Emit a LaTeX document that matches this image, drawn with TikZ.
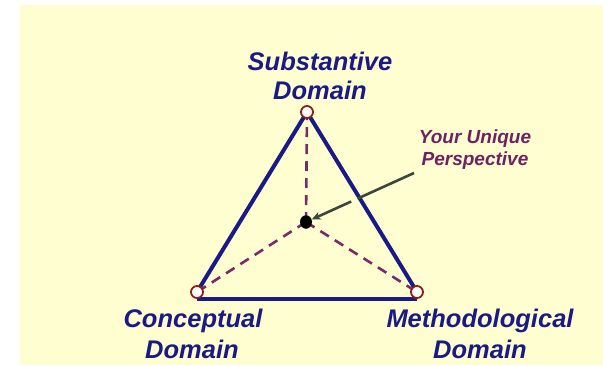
\documentclass[tikz,border=0pt]{standalone}
\usepackage{fontspec}
\setmainfont{Liberation Sans}
\usetikzlibrary{arrows.meta}
\definecolor{bgyellow}{HTML}{FFFED0}
\definecolor{navy}{HTML}{1A1A86}
\definecolor{plum}{HTML}{6E2262}
\definecolor{dashplum}{HTML}{7A2A6A}
\definecolor{ringred}{HTML}{8E1E14}
\definecolor{arrowgray}{HTML}{3A463E}
\tikzset{
  domlabel/.style={font=\fontsize{25.5}{30}\selectfont\bfseries\itshape, text=navy, anchor=base, inner sep=0pt},
  perslabel/.style={font=\fontsize{19}{22}\selectfont\bfseries\itshape, text=plum, anchor=base, inner sep=0pt},
  vertex/.style={circle, draw=ringred, fill=white, line width=1.8pt, minimum size=12pt, inner sep=0pt},
  centerdot/.style={ellipse, fill=black, minimum width=12pt, minimum height=13.5pt, inner sep=0pt},
  edge/.style={draw=navy, line width=4pt},
  spoke/.style={draw=dashplum, line width=2.6pt, dash pattern=on 10pt off 7pt},
  pointer/.style={draw=arrowgray, line width=2.6pt, dash pattern=on 62pt off 7pt, -{Stealth[length=9pt,width=8pt]}}
}
\usetikzlibrary{shapes.geometric}
\begin{document}
\begin{tikzpicture}[x=1pt,y=-1pt]
\useasboundingbox (0,0) rectangle (603,365);
\fill[bgyellow] (20,5) rectangle (603,365);

% coordinates of vertices
\coordinate (T) at (307,112);
\coordinate (L) at (197,292);
\coordinate (R) at (417,292);
\coordinate (C) at (306,222);
\coordinate (Lb) at (197,298.5);
\coordinate (Rb) at (417,298.5);
\coordinate (P) at (414,173);

% triangle
\draw[edge] (L) -- (T) -- (R);
\draw[edge] (Lb) -- (Rb);

% spokes
\draw[spoke] (C) -- (T);
\draw[spoke] (C) -- (L);
\draw[spoke] (C) -- (R);

% vertices
\node[vertex] (top) at (T) {};
\node[vertex] (left) at (L) {};
\node[vertex] (right) at (R) {};
\node[centerdot] (center) at (C) {};

% pointer arrow
\draw[pointer] (P) -- (center);

% labels
\node[domlabel] (sub1) at (320,70) {Substantive};
\node[domlabel] (sub2) at (320,99) {Domain};
\node[domlabel] (con1) at (193,327) {Conceptual};
\node[domlabel] (con2) at (192,358) {Domain};
\node[domlabel] (met1) at (480,327) {Methodological};
\node[domlabel] (met2) at (480,358) {Domain};
\node[perslabel] (per1) at (475,143) {Your Unique};
\node[perslabel] (per2) at (475,165) {Perspective};
\end{tikzpicture}
\end{document}
